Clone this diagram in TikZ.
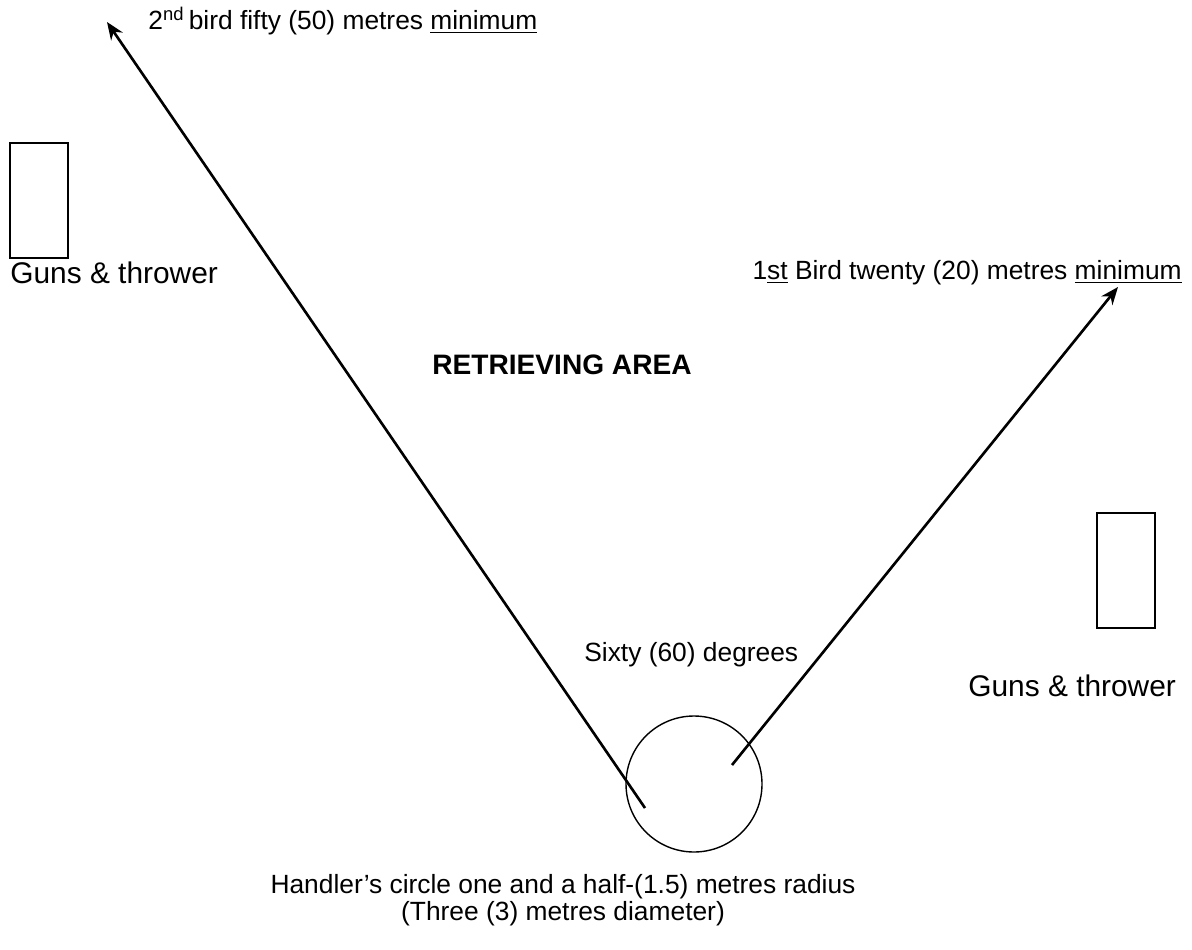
\documentclass[tikz,border=0pt]{standalone}
\usepackage{fontspec}
\setmainfont{Liberation Sans}
\usetikzlibrary{arrows.meta}

\begin{document}
\begin{tikzpicture}[x=0.02cm,y=-0.02cm]
		\def\circleradius{68}
		\def\boxwidth{58}
		\def\boxheight{115}
		\tikzset{
			label/.style = {inner sep = 0, font = \fontsize{15}{15}\selectfont},
			gunlabel/.style = {inner sep = 0, font = \fontsize{17}{20}\selectfont},
			birdline/.style = {line width = 1.5pt, -{Stealth[length = 10pt, width = 8pt]}},
			gunbox/.style = {line width = .8pt}
		}
		
		\useasboundingbox (0,0) rectangle (1192,949);
		
		\coordinate (Handler) at (694,784);
		\coordinate (FirstStart) at (732,765);
		\coordinate (FirstBird) at (1118,287);
		\coordinate (SecondStart) at (645,808);
		\coordinate (SecondBird) at (107,22);
		\coordinate (LeftGuns) at (10,143);
		\coordinate (RightGuns) at (1097,513);
		
		\draw[line width = .8pt] (Handler) circle (\circleradius);
		
		\draw[birdline] (SecondStart) -- (SecondBird);
		\draw[birdline] (FirstStart) -- (FirstBird);
		
		\draw[gunbox] (LeftGuns) rectangle ++(\boxwidth,\boxheight);
		\draw[gunbox] (RightGuns) rectangle ++(\boxwidth,\boxheight);
		
		\node[label, anchor = west] (second) at (148,21) {2\textsuperscript{nd}\,bird fifty (50) metres \underline{minimum}};
		\node[label, anchor = east] (first) at (1182,273) {1\underline{st} Bird twenty (20) metres \underline{minimum}};
		\node[gunlabel, anchor = west] (leftlabel) at (10,273) {Guns \& thrower};
		\node[gunlabel, anchor = west] (rightlabel) at (968,686) {Guns \& thrower};
		\node[label, anchor = west, font = \fontsize{16}{16}\selectfont\bfseries] (area) at (432,365) {RETRIEVING AREA};
		\node[label, anchor = west] (angle) at (584,655) {Sixty (60) degrees};
		\node[label, align = center] (handler) at (563,900) {Handler’s circle one and a half-(1.5) metres radius\\(Three (3) metres diameter)};
	\end{tikzpicture}
\end{document}
